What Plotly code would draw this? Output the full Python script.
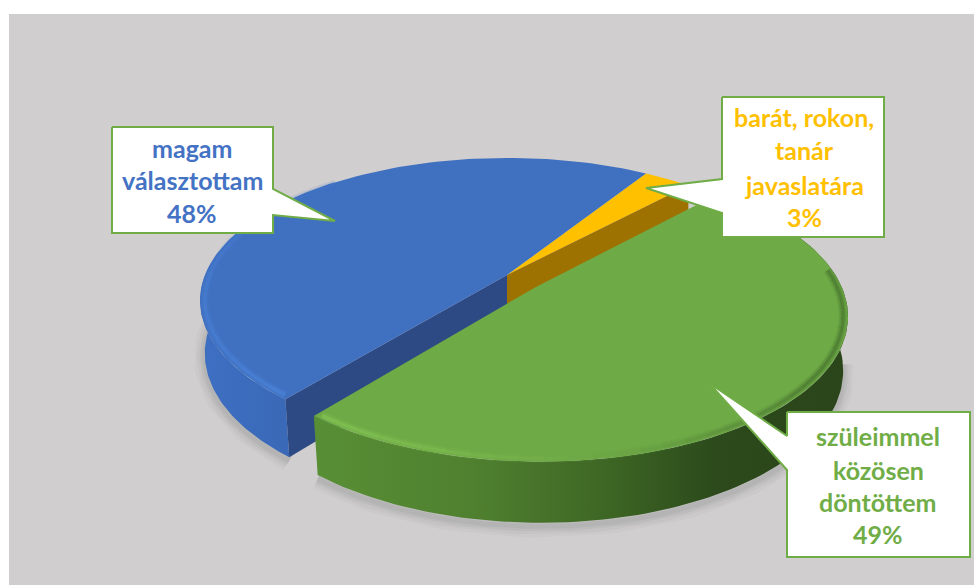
import numpy as np
import plotly.graph_objects as go

# Data
categories = ["magam választottam", "barát, rokon, tanár javaslatára", "szüleimmel közösen döntöttem"]
shares = [48, 3, 49]
label_lines = [["magam", "választottam", "48%"],
               ["barát, rokon,", "tanár", "javaslatára", "3%"],
               ["szüleimmel", "közösen", "döntöttem", "49%"]]

# Projection of the pie plane on the canvas
X0, Y0, A, B, K = 507, 275, 302, 138, 0.179
DEPTH = 52
BOTTOM_R = 0.985
EXPLODE = 0.15
START = 32.0


def proj(u, v, drop=0.0):
    s = 1 / (1 + K * v)
    return X0 + A * u * s, Y0 - B * v * s + drop * s


def arc(a0, a1, r=1.0, ox=0.0, oy=0.0, drop=0.0, n=120):
    t = np.radians(np.linspace(a0, a1, n))
    return proj(ox + r * np.sin(t), oy + r * np.cos(t), drop)


fig = go.Figure()


def poly(x, y, fill=None, grad=None):
    d = dict(x=list(x), y=list(y), mode="lines", fill="toself", line=dict(width=0),
             hoverinfo="skip", showlegend=False)
    if grad:
        d["fillgradient"] = dict(type="horizontal", colorscale=grad)
    else:
        d["fillcolor"] = fill
    fig.add_trace(go.Scatter(**d))


def stroke(x, y, color, width):
    fig.add_trace(go.Scatter(x=list(x), y=list(y), mode="lines", line=dict(color=color, width=width),
                             hoverinfo="skip", showlegend=False))


def mix(c0, c1, f, op):
    return "rgba(%d,%d,%d,%.3f)" % (*[c0[i] + (c1[i] - c0[i]) * f for i in range(3)], op)


# Slice angles (clockwise from the back of the pie)
a_blue_end = START
a_blue_start = START - shares[0] * 3.6
a_or_end = START + shares[1] * 3.6
a_gr_end = a_blue_start + 360
mid = np.radians((a_or_end + a_gr_end) / 2)
ox, oy = EXPLODE * np.sin(mid) - 0.022, EXPLODE * np.cos(mid) + 0.01

# Soft shadow under the front of the pie
for w, op in [(22, 0.03), (16, 0.04), (10, 0.05), (5, 0.06)]:
    x, y = arc(a_blue_start, a_blue_start + 60, r=BOTTOM_R, drop=DEPTH + 3)
    stroke(x, y, f"rgba(60,60,60,{op})", w)
    x, y = arc(a_or_end + 55, a_gr_end, r=BOTTOM_R, ox=ox, oy=oy, drop=DEPTH + 3)
    stroke(x, y, f"rgba(60,60,60,{op})", w)

# Blue outer wall
xt, yt = arc(a_blue_start, a_blue_start + 100)
xb, yb = arc(a_blue_start, a_blue_start + 100, r=BOTTOM_R, drop=DEPTH)
poly(np.r_[xt, xb[::-1]], np.r_[yt, yb[::-1]],
     grad=[[0, "#3E6FC2"], [0.6, "#3A69B8"], [1, "#3566B4"]])

# Blue inner wall
cx, cy = proj(0, 0)
cbx, cby = proj(0, 0, DEPTH)
ex, ey = arc(a_blue_start, a_blue_start, n=1)
ebx, eby = arc(a_blue_start, a_blue_start, r=BOTTOM_R, drop=DEPTH, n=1)
poly([cx, ex[0], ebx[0], cbx], [cy, ey[0], eby[0], cby], fill="#2E4A85")

# Orange top and inner wall
xt, yt = arc(a_blue_end, a_or_end, n=20)
poly(np.r_[cx, xt], np.r_[cy, yt], fill="#FFC000")
rx, ry = arc(a_or_end, a_or_end, n=1)
rbx, rby = arc(a_or_end, a_or_end, drop=DEPTH, n=1)
poly([cx, rx[0], rbx[0], cbx], [cy, ry[0], rby[0], cby], fill="#9E7200")

# Blue top
xt, yt = arc(a_blue_start, a_blue_end)
poly(np.r_[cx, xt], np.r_[cy, yt], fill="#4070C0")

# Blue bevel
BL0, BL1 = (80, 140, 228), (66, 116, 200)
t = np.linspace(a_blue_start + 1, a_blue_start + 100, 24)
for i in range(len(t) - 1):
    f = i / (len(t) - 2)
    for r, w, op in [(0.985, 9, 0.12), (0.985, 6, 0.2), (0.985, 3, 0.35)]:
        x, y = arc(t[i], t[i + 1], r=r, n=6)
        stroke(x, y, mix(BL0, BL1, f, op), w)

# Green wall
xt, yt = arc(a_or_end + 10, a_gr_end, ox=ox, oy=oy)
xb, yb = arc(a_or_end + 10, a_gr_end, r=BOTTOM_R, ox=ox, oy=oy, drop=DEPTH)
poly(np.r_[xt, xb[::-1]], np.r_[yt, yb[::-1]],
     grad=[[0, "#588F35"], [0.3, "#4F802F"], [0.55, "#3D6624"], [0.75, "#2C4A1B"], [1, "#2A451A"]])

# Green top
xt, yt = arc(a_or_end, a_gr_end, ox=ox, oy=oy)
ax, ay = proj(ox, oy)
poly(np.r_[ax, xt], np.r_[ay, yt], fill="#6EAA46")

# Green bevel: bright on the left, melting into the dark wall on the right
G0, G1 = (140, 205, 90), (60, 100, 40)
t = np.linspace(a_gr_end - 1, a_or_end + 40, 36)
for i in range(len(t) - 1):
    f = min(1.0, (i / (len(t) - 2)) * 1.5) ** 1.5
    for r, w, op in [(0.985, 9, 0.12), (0.985, 6, 0.2), (0.985, 3, 0.35)]:
        x, y = arc(t[i], t[i + 1], r=r, ox=ox, oy=oy, n=6)
        stroke(x, y, mix(G0, G1, f, op), w)

# Callouts
LINE = "#70AD47"
callouts = [
    ([112, 273, 273, 335, 273, 273, 112, 112], [127, 127, 189, 221, 215, 233, 233, 127]),
    ([722, 884, 884, 722, 722, 646, 722, 722], [97, 97, 237, 237, 213, 188, 179, 97]),
    ([787, 970, 970, 787, 787, 709, 787, 787], [412, 412, 557, 557, 470, 383, 436, 412]),
]
for cxs, cys in callouts:
    fig.add_trace(go.Scatter(x=cxs, y=cys, mode="lines", fill="toself", fillcolor="white",
                             line=dict(color=LINE, width=2), hoverinfo="skip", showlegend=False))

colors = ["#4472C4", "#FFC000", "#70AD47"]
centers = [192, 804, 878]
rows = [[148, 180, 213], [117, 150, 185, 217], [436, 470, 502, 534]]
ann = []
for lines, col, xc, ys in zip(label_lines, colors, centers, rows):
    for s, yy in zip(lines, ys):
        ann.append(dict(x=xc, y=yy, text=s, showarrow=False, xanchor="center", yanchor="middle",
                        font=dict(family="Lato", size=25, color=col, weight="bold")))

fig.update_layout(
    width=974, height=585, margin=dict(l=0, r=0, t=0, b=0),
    paper_bgcolor="white", plot_bgcolor="white", showlegend=False,
    xaxis=dict(range=[0, 974], visible=False, fixedrange=True),
    yaxis=dict(range=[585, 0], visible=False, fixedrange=True),
    annotations=ann,
    shapes=[dict(type="rect", x0=9, x1=974, y0=14, y1=585, fillcolor="#D0CECE", line=dict(width=0), layer="below")],
)
fig.write_html("out.html", config=dict(displayModeBar=False), post_script="document.body.style.margin='0';")
